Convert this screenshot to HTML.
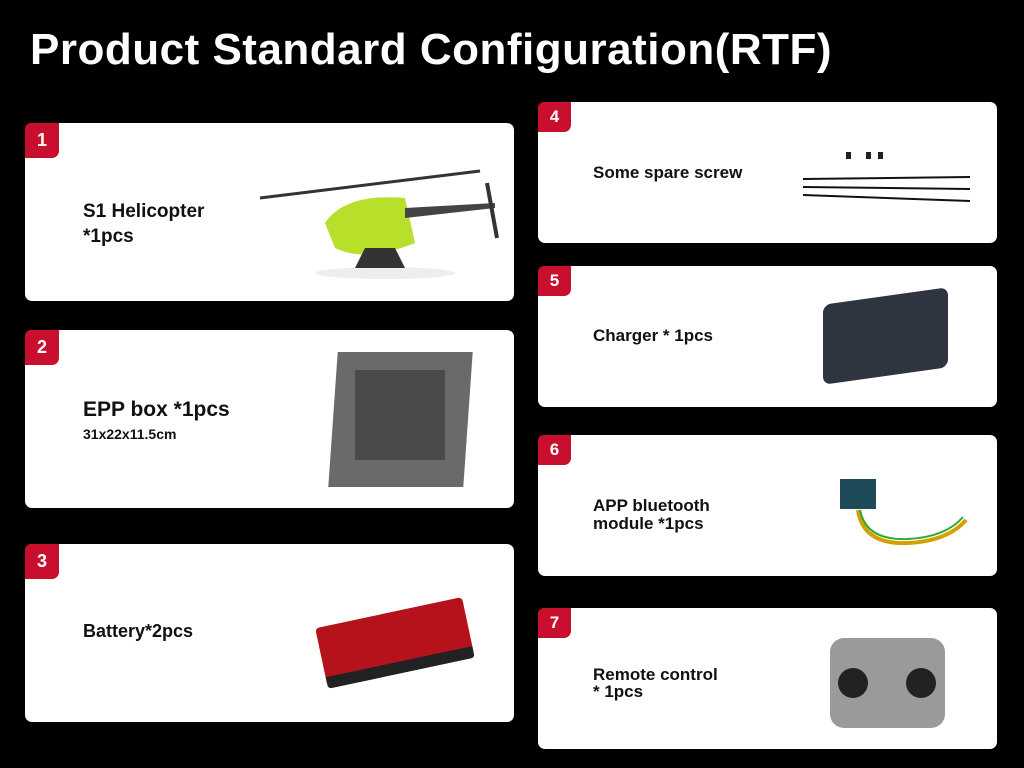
<!DOCTYPE html>
<html><head><meta charset="utf-8"><style>
body{margin:0;width:1024px;height:768px;background:#000;position:relative;overflow:hidden;font-family:"Liberation Sans","DejaVu Sans",sans-serif}
.t{position:absolute;left:30px;top:25px;color:#fff;font-size:44px;font-weight:bold;letter-spacing:0.5px;white-space:nowrap}
.c{position:absolute;background:#fff;border-radius:7px}
.n{position:absolute;left:0;top:0;width:34px;height:35px;background:#c8102e;color:#fff;font-weight:bold;font-size:18px;text-align:center;line-height:35px;border-radius:6px 0 7px 0}
.r .n{width:33px;height:30px;line-height:30px;font-size:17px}
.l{position:absolute;color:#111;font-weight:bold;font-size:18px;line-height:21px}
.a{position:absolute}
</style></head><body>
<div class="t">Product Standard Configuration(RTF)</div>

<div class="c" style="left:25px;top:123px;width:489px;height:178px"><div class="n">1</div>
<div class="l" style="left:58px;top:76px;font-size:19px;line-height:25px">S1 Helicopter<br>*1pcs</div>
<svg class="a" style="left:230px;top:40px" width="260" height="120">
<line x1="5" y1="35" x2="225" y2="8" stroke="#333" stroke-width="3"/>
<ellipse cx="130" cy="110" rx="70" ry="6" fill="#eee"/>
<path d="M70 60 Q90 30 150 35 L160 80 Q110 100 80 85 Z" fill="#b8e02a"/>
<path d="M150 45 L240 40 L240 45 L150 55Z" fill="#444"/>
<line x1="232" y1="20" x2="242" y2="75" stroke="#333" stroke-width="4"/>
<path d="M110 85 L100 105 L150 105 L140 85Z" fill="#333"/>
</svg>
</div>

<div class="c" style="left:25px;top:330px;width:489px;height:178px"><div class="n">2</div>
<div class="l" style="left:58px;top:68px;font-size:21px;line-height:24px">EPP box *1pcs</div>
<div class="l" style="left:58px;top:94px;font-size:14px">31x22x11.5cm</div>
<div class="a" style="left:308px;top:22px;width:135px;height:135px;background:#6a6a6a;transform:skewX(-4deg)"></div>
<div class="a" style="left:330px;top:40px;width:90px;height:90px;background:#4a4a4a"></div>
</div>

<div class="c" style="left:25px;top:544px;width:489px;height:178px"><div class="n">3</div>
<div class="l" style="left:58px;top:77px">Battery*2pcs</div>
<div class="a" style="left:295px;top:68px;width:150px;height:50px;background:#b5121b;transform:rotate(-12deg);border-radius:4px;border-bottom:12px solid #222"></div>
</div>

<div class="c r" style="left:538px;top:102px;width:459px;height:141px"><div class="n">4</div>
<div class="l" style="left:55px;top:60px;font-size:17px">Some spare screw</div>
<svg class="a" style="left:260px;top:45px" width="180" height="60">
<g stroke="#111" stroke-width="2"><line x1="5" y1="32" x2="172" y2="30"/><line x1="5" y1="40" x2="172" y2="42"/><line x1="5" y1="48" x2="172" y2="54"/></g>
<g fill="#222"><rect x="48" y="5" width="5" height="7"/><rect x="68" y="5" width="5" height="7"/><rect x="80" y="5" width="5" height="7"/></g>
</svg>
</div>

<div class="c r" style="left:538px;top:266px;width:459px;height:141px"><div class="n">5</div>
<div class="l" style="left:55px;top:59px;font-size:17px">Charger * 1pcs</div>
<div class="a" style="left:285px;top:30px;width:125px;height:80px;background:#2e3540;border-radius:8px;transform:skewY(-8deg)"></div>
</div>

<div class="c r" style="left:538px;top:435px;width:459px;height:141px"><div class="n">6</div>
<div class="l" style="left:55px;top:62px;font-size:17px;line-height:18px">APP bluetooth<br>module *1pcs</div>
<div class="a" style="left:302px;top:44px;width:36px;height:30px;background:#1e4a5a"></div>
<svg class="a" style="left:310px;top:70px" width="130" height="45"><path d="M10 5 Q15 40 60 38 Q100 36 118 15" stroke="#d4a000" stroke-width="4" fill="none"/><path d="M12 5 Q18 36 60 34 Q98 32 115 12" stroke="#3a3" stroke-width="2" fill="none"/></svg>
</div>

<div class="c r" style="left:538px;top:608px;width:459px;height:141px"><div class="n">7</div>
<div class="l" style="left:55px;top:58px;font-size:17px;line-height:17px">Remote control<br>* 1pcs</div>
<div class="a" style="left:292px;top:30px;width:115px;height:90px;background:#9a9a9a;border-radius:14px"></div>
<div class="a" style="left:300px;top:60px;width:30px;height:30px;background:#222;border-radius:50%"></div>
<div class="a" style="left:368px;top:60px;width:30px;height:30px;background:#222;border-radius:50%"></div>
</div>
</body></html>
